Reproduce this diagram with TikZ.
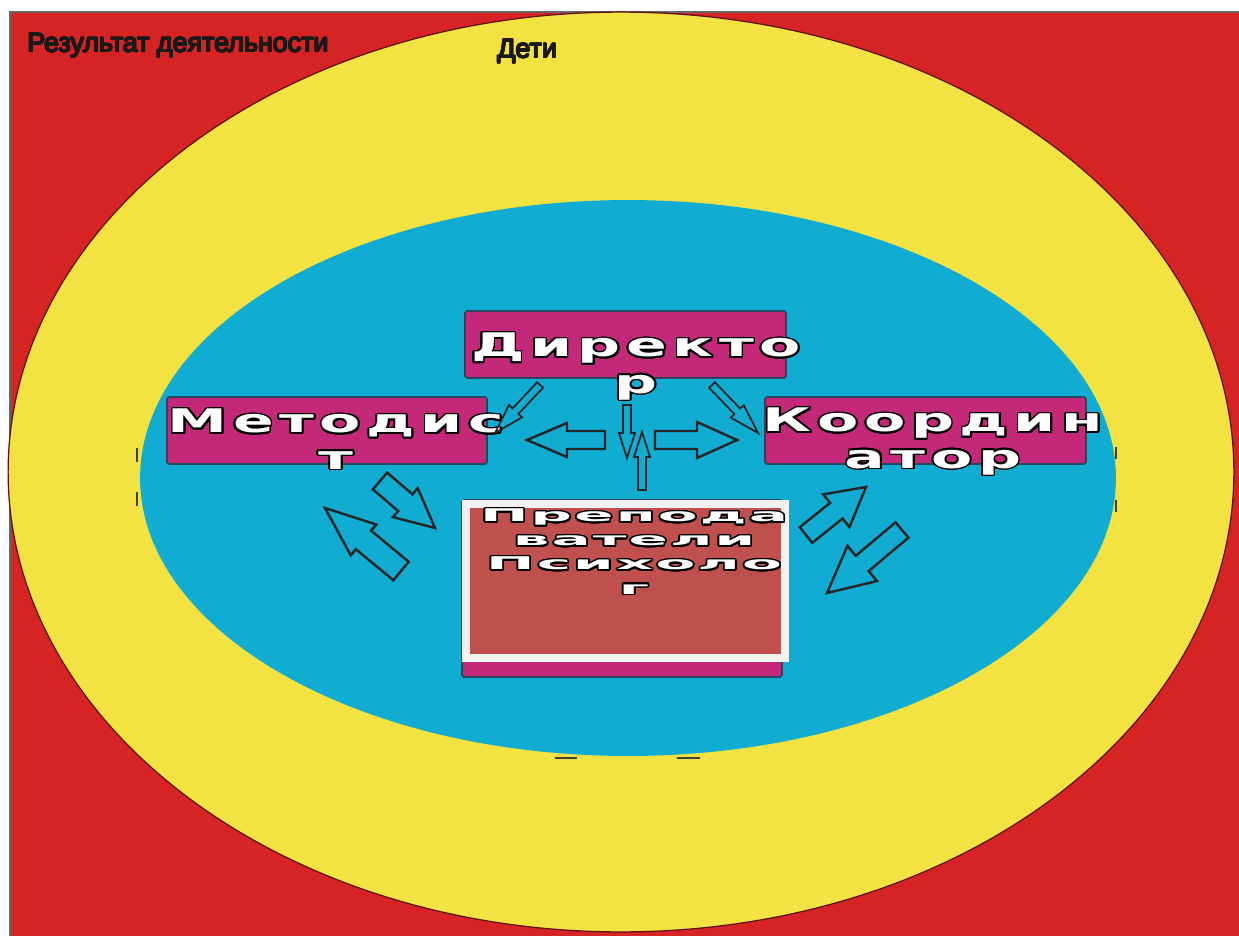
\documentclass[tikz,border=0pt]{standalone}
\usepackage{fontspec}
\setmainfont{Liberation Sans}
\newfontfamily\boxfont{DejaVu Sans Bold}[FakeStretch=1.85, LetterSpace=17]
\newfontfamily\widefont{DejaVu Sans Bold}[FakeStretch=3.3, LetterSpace=12]
\usepackage{contour}
\contourlength{1pt}
\usetikzlibrary{calc}

\definecolor{outerred}{RGB}{214,36,36}
\definecolor{ringyellow}{RGB}{242,226,66}
\definecolor{innerblue}{RGB}{17,172,210}
\definecolor{boxfill}{RGB}{196,40,120}
\definecolor{boxline}{RGB}{40,70,95}
\definecolor{staffred}{RGB}{192,80,77}

\tikzset{
    box/.style={
        rectangle,
        rounded corners=1pt,
        draw=boxline,
        line width=1pt,
        fill=boxfill,
        inner sep=0pt
    },
    boxtext/.style={
        text=white,
        font=\boxfont\fontsize{18.5}{20.5}\selectfont,
        align=center,
        inner sep=0pt
    },
    smalltext/.style={
        text=white,
        font=\widefont\fontsize{10}{13.7}\selectfont,
        align=center,
        inner sep=0pt
    },
    label/.style={
        text=black!90,
        font=\fontsize{15.3}{18}\selectfont,
        inner sep=0pt
    },
    arrowline/.style={draw=black!85, line width=1.4pt, line join=miter},
    thinline/.style={draw=black!85, line width=1pt, line join=miter},
    tick/.style={draw=black!75, line width=1.2pt}
}

% hollow block arrow: tail, tip, body half width, head half width, head length (px)
\newcommand{\blockarrow}[6][arrowline]{%
    \coordinate (h) at ($(#3)!{#6*0.02cm}!(#2)$);
    \draw[#1] ($(#2)!{#4*0.02cm}!90:(#3)$) -- ($(h)!{#4*0.02cm}!90:(#3)$)
        -- ($(h)!{#5*0.02cm}!90:(#3)$) -- (#3)
        -- ($(h)!{#5*0.02cm}!-90:(#3)$) -- ($(h)!{#4*0.02cm}!-90:(#3)$)
        -- ($(#2)!{#4*0.02cm}!-90:(#3)$) -- cycle;
}
\newcommand{\outl}[1]{\contour{black}{#1}}
\newcommand{\heavy}[1]{{\contourlength{0.35pt}\contour{black!90}{#1}}}

\begin{document}
\begin{tikzpicture}[x=0.02cm, y=-0.02cm]

\useasboundingbox (0,0) rectangle (1239,936);
\clip (0,0) rectangle (1239,936);

% background rings
\fill[white] (0,0) rectangle (1239,936);
\fill[outerred] (10,12) rectangle (1239,936);
\draw[black!60, line width=1pt] (10,936) -- (10,12) -- (1239,12);
\filldraw[fill=ringyellow, draw=outerred!45!black, line width=0.7pt]
    (621,472) ellipse [x radius=12.26cm, y radius=9.2cm];
\fill[innerblue] (628,478) ellipse [x radius=9.76cm, y radius=5.56cm];

% stray handles
\draw[tick] (137,448) -- (137,462);
\draw[tick] (137,492) -- (137,506);
\draw[tick] (1116,447) -- (1116,459);
\draw[tick] (1116,500) -- (1116,512);
\draw[tick] (555,758) -- (577,758);
\draw[tick] (677,758) -- (700,758);

\node (result) [label, anchor=base west] at (27,52) {\heavy{Результат деятельности}};
\node (children) [label, anchor=base west] at (497,58) {\heavy{Дети}};

% boxes
\node (director) [box, minimum width=6.42cm, minimum height=1.34cm] at (625.5,344.5) {};
\node (methodist) [box, minimum width=6.4cm, minimum height=1.34cm] at (327,430.5) {};
\node (coordinator) [box, minimum width=6.42cm, minimum height=1.34cm] at (925.5,430.5) {};
\node (staffback) [box, minimum width=6.4cm, minimum height=3.54cm] at (622,588.5) {};
\node (staff) [rectangle, draw=white!95!black, line width=0.16cm, fill=staffred,
    minimum width=6.38cm, minimum height=3.08cm] at (625.5,581) {};

% captions (anchored at the last line)
\node (dirtext) [boxtext, anchor=base] at (636,393) {\outl{Директо}\\\outl{р}};
\node (mettext) [boxtext, anchor=base] at (336,469) {\outl{Методис}\\\outl{т}};
\node (cootext) [boxtext, anchor=base] at (933,468) {\outl{Координ}\\\outl{атор}};
\node (stafftext) [smalltext, anchor=base] at (634,594)
    {\outl{Препода}\\\outl{ватели}\\\outl{Психоло}\\\outl{г}};

% arrow ends
\coordinate (lt) at (605,440);   \coordinate (lh) at (527,440);
\coordinate (rt) at (655,440);   \coordinate (rh) at (737,440);
\coordinate (dt) at (627,405);   \coordinate (dh) at (627,458);
\coordinate (ut) at (642,490);   \coordinate (uh) at (642,432);
\coordinate (dlt) at (540,385);  \coordinate (dlh) at (495,433);
\coordinate (drt) at (712,385);  \coordinate (drh) at (758,433);
\coordinate (m1t) at (380,481);  \coordinate (m1h) at (435,528);
\coordinate (m2t) at (401,571);  \coordinate (m2h) at (325,508);
\coordinate (k1t) at (806,535);  \coordinate (k1h) at (866,487);
\coordinate (k2t) at (902,530);  \coordinate (k2h) at (827,593);

\blockarrow{lt}{lh}{9}{17}{40}
\blockarrow{rt}{rh}{9}{18}{40}
\blockarrow[thinline]{dt}{dh}{4}{8}{25}
\blockarrow[thinline]{ut}{uh}{4}{8}{25}
\blockarrow[thinline]{dlt}{dlh}{4}{9}{30}
\blockarrow[thinline]{drt}{drh}{4}{9}{30}
\blockarrow{m1t}{m1h}{11}{19}{39}
\blockarrow{m2t}{m2h}{12}{20}{50}
\blockarrow{k1t}{k1h}{10}{21}{38}
\blockarrow{k2t}{k2h}{10}{23}{46}

\end{tikzpicture}
\end{document}
